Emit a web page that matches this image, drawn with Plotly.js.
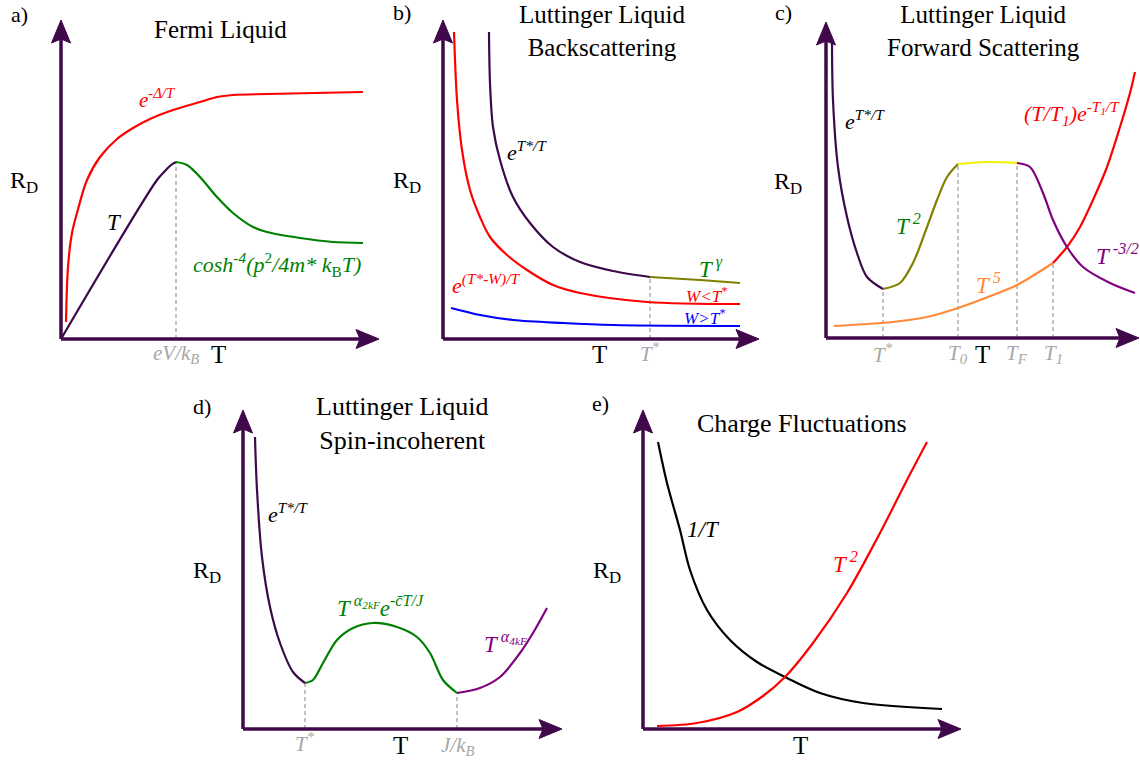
<!DOCTYPE html>
<html><head><meta charset="utf-8">
<script src="https://cdn.plot.ly/plotly-3.0.1.min.js"></script>
<style>html,body{margin:0;padding:0;background:#fff}#chart{width:1140px;height:761px}</style>
</head><body><div id="chart"></div>
<script>
// ---------------- data (arbitrary T / R_D units) ----------------
// a) Fermi Liquid
const aRedX  = [5,7,11,16,26,39,56,72,89,112,139,156,172,206,302];
const aRedY  = [17,72,106,126,159,182,200,211,220,229,237,242,244,245,247];
const aLinX  = [0,96,104,110,115];
const aLinY  = [0,159,168,174,177];
const aCoshX = [115,126,139,156,172,192,206,239,272,302];
const aCoshY = [177,174,162,142,126,112,107,101,97,96];
const aGuideX = [115], aGuideTop = [177];
const aTickText = ['eV/k<sub>B</sub>'];

// b) Luttinger Liquid – Backscattering
const bRedX  = [11,14,19,27,37,47,64,84,110,137,204,297];
const bRedY  = [307,239,189,149,122,102,84,69,54,46,37,35];
const bExpX  = [46,47,50,57,70,87,110,137,170,207];
const bExpY  = [307,256,212,179,142,116,92,77,68,62];
const bPowX  = [207,257,297];
const bPowY  = [62,59,56];
const bBlueX = [8,37,70,120,170,297];
const bBlueY = [31,24,19,16,14,13];
const bGuideX = [207], bGuideTop = [62];
const bTickText = ['T<sup>*</sup>'];

// c) Luttinger Liquid – Forward Scattering
const cExpX  = [6,7,12,21,31,41,57];
const cExpY  = [295,238,171,121,85,61,49];
const cT2X   = [57,74,87,101,111,121,132];
const cT2Y   = [49,55,75,111,138,161,174];
const cFlatX = [132,161,191];
const cFlatY = [174,176,175];
const cDecX  = [191,204,217,227,241,257,284,309];
const cDecY  = [175,171,145,118,91,71,55,45];
const cT5X   = [8,67,101,132,167,191,227];
const cT5Y   = [12,16,21,30,43,53,75];
const cActX  = [227,241,254,267,281,294,304,309];
const cActY  = [75,91,111,138,171,211,245,266];
const cGuideX = [57,132,191,227], cGuideTop = [49,174,175,75];
const cTickText = ['T<sup>*</sup>','T<sub>0</sub>','T<sub>F</sub>','T<sub>1</sub>'];

// d) Luttinger Liquid – Spin-incoherent
const dExpX  = [12,14,19,27,37,50,62];
const dExpY  = [292,239,172,122,86,57,46];
const dMidX  = [62,70,80,94,110,130,154,174,187,200,214];
const dMidY  = [46,49,66,89,101,106,102,92,76,49,36];
const dPowX  = [214,237,257,277,290,304];
const dPowY  = [36,41,52,76,96,121];
const dGuideX = [62,214], dGuideTop = [46,36];
const dTickText = ['T<sup>*</sup>','J/k<sub>B</sub>'];

// e) Charge Fluctuations
const eInvX = [15,24,37,47,64,87,114,144,177,220,299];
const eInvY = [287,246,199,159,119,89,67,51,36,26,20];
const eSqX  = [14,54,94,120,142,170,204,237,264,284];
const eSqY  = [3,6,17,33,52,86,136,196,249,287];

// ---------------- layout helpers ----------------
const W = 1140, H = 761, PAD = 12;
const AX = '#40084a', DARK = '#3c0a4a', GREY = '#a6a6a6', GUIDE = '#9a9a9a';
const FONT = 'Liberation Serif';
const panels = [
  {id:'a', ox:61,  oy:339, tx:379,  ty:20},
  {id:'b', ox:443, oy:339, tx:759,  ty:20},
  {id:'c', ox:826, oy:338, tx:1139, ty:22},
  {id:'d', ox:243, oy:729, tx:562,  ty:410},
  {id:'e', ox:643, oy:729, tx:961,  ty:410}
];
const px = x => x / W, py = y => 1 - y / H;

const layout = {
  width: W, height: H, margin: {l:0, r:0, t:0, b:0},
  paper_bgcolor: '#fff', plot_bgcolor: 'rgba(0,0,0,0)',
  showlegend: false, shapes: [], annotations: [],
  font: {family: FONT, color: '#000'}
};
const traces = [];

panels.forEach((p, i) => {
  const n = i + 1, xs = n === 1 ? '' : n, xr = 'x' + (n === 1 ? '' : n), yr = 'y' + (n === 1 ? '' : n);
  p.xr = xr; p.yr = yr;
  const xm = p.tx - p.ox, ym = p.oy - p.ty;
  const common = {showgrid:false, zeroline:false, showline:false, showticklabels:false, ticks:'', fixedrange:true};
  layout['xaxis' + xs] = Object.assign({}, common, {domain:[px(p.ox - PAD), px(p.tx)], range:[-PAD, xm], anchor: yr});
  layout['yaxis' + xs] = Object.assign({}, common, {domain:[py(p.oy + PAD), py(p.ty)], range:[-PAD, ym], anchor: xr});
  // axis arrows
  const L = 23, HW = 9.5, N = 4;
  layout.shapes.push({type:'line', xref:xr, yref:yr, x0:0, y0:0, x1:xm - L + N, y1:0, line:{color:AX, width:3.5}, layer:'above'});
  layout.shapes.push({type:'line', xref:xr, yref:yr, x0:0, y0:0, x1:0, y1:ym - L + N, line:{color:AX, width:3.5}, layer:'above'});
  layout.shapes.push({type:'path', xref:xr, yref:yr, layer:'above', fillcolor:AX, line:{color:AX, width:1},
    path:`M${xm},0 L${xm - L},${HW} L${xm - L + N},0 L${xm - L},${-HW} Z`});
  layout.shapes.push({type:'path', xref:xr, yref:yr, layer:'above', fillcolor:AX, line:{color:AX, width:1},
    path:`M0,${ym} L${HW},${ym - L} L0,${ym - L + N} L${-HW},${ym - L} Z`});
});

function curve(pi, x, y, color, width) {
  const p = panels[pi];
  traces.push({type:'scatter', mode:'lines', x:x, y:y, xaxis:p.xr, yaxis:p.yr,
    line:{color:color, width:width || 2.2, shape:'spline', smoothing:0.9}, hoverinfo:'skip'});
}
function guides(pi, gx, gtop) {
  const p = panels[pi];
  gx.forEach((g, k) => traces.push({type:'scatter', mode:'lines', x:[g, g], y:[0, gtop[k]], xaxis:p.xr, yaxis:p.yr,
    line:{color:GUIDE, width:1.2, dash:'4px,3px'}, hoverinfo:'skip'}));
}
function ann(text, x, y, size, color) {
  layout.annotations.push({text:text, x:px(x), y:py(y), xref:'paper', yref:'paper',
    showarrow:false, xanchor:'center', yanchor:'middle', font:{family:FONT, size:size, color:color || '#000'}});
}
function tick(pi, xv, text, ypix, color, size) {
  const p = panels[pi];
  layout.annotations.push({text:text, x:xv, y:py(ypix), xref:p.xr, yref:'paper', showarrow:false,
    xanchor:'center', yanchor:'middle', font:{family:FONT, size:size || 21, color:color || GREY}});
}

// guides first (drawn under curves)
guides(0, aGuideX, aGuideTop);
guides(1, bGuideX, bGuideTop);
guides(2, cGuideX, cGuideTop);
guides(3, dGuideX, dGuideTop);

// a
curve(0, aRedX, aRedY, '#ff0000');
curve(0, aLinX, aLinY, DARK);
curve(0, aCoshX, aCoshY, '#008000');
// b
curve(1, bBlueX, bBlueY, '#0000ff');
curve(1, bRedX, bRedY, '#ff0000');
curve(1, bExpX, bExpY, DARK);
curve(1, bPowX, bPowY, '#808000');
// c
curve(2, cT5X, cT5Y, '#ff8a3a');
curve(2, cActX, cActY, '#ff0000');
curve(2, cExpX, cExpY, DARK);
curve(2, cT2X, cT2Y, '#808000');
curve(2, cFlatX, cFlatY, '#f2f200');
curve(2, cDecX, cDecY, '#800080');
// d
curve(3, dExpX, dExpY, DARK);
curve(3, dMidX, dMidY, '#008000');
curve(3, dPowX, dPowY, '#800080');
// e
curve(4, eInvX, eInvY, '#000000');
curve(4, eSqX, eSqY, '#ff0000');

// panel letters
ann('a)', 19, 15, 22); ann('b)', 402, 13, 22); ann('c)', 783, 13, 22);
ann('d)', 202, 406, 22); ann('e)', 600, 403, 22);
// titles
ann('Fermi Liquid', 220, 29, 25);
ann('Luttinger Liquid<br>Backscattering', 602, 31, 25);
ann('Luttinger Liquid<br>Forward Scattering', 983, 31, 25);
ann('Luttinger Liquid<br>Spin-incoherent', 402, 424, 26);
ann('Charge Fluctuations', 802, 423, 26);
// y labels
[[24,182],[407,182],[788,183],[207,572],[607,572]].forEach(q => ann('R<sub>D</sub>', q[0], q[1], 24));
// x labels
[[218,355],[599,355],[982,355],[400,745],[800,745]].forEach(q => ann('T', q[0], q[1], 25));

// tick labels
tick(0, aGuideX[0], '<i>' + aTickText[0] + '</i>', 354);
tick(1, bGuideX[0], '<i>' + bTickText[0] + '</i>', 352);
cGuideX.forEach((g, k) => tick(2, g, '<i>' + cTickText[k] + '</i>', 354));
tick(3, dGuideX[0], '<i>' + dTickText[0] + '</i>', 742);
tick(3, dGuideX[1], '<i>' + dTickText[1] + '</i>', 746);

// curve labels
ann('<i>e<sup>-Δ/T</sup></i>', 157, 98, 21, '#ff0000');
ann('<i>T</i>', 114, 222, 23, '#000');
ann('<i>cosh<sup>-4</sup>(p</i><sup>2</sup><i>/4m* k</i><sub>B</sub><i>T)</i>', 277, 264, 22, '#008000');

ann('<i>e<sup>T*/T</sup></i>', 527, 151, 22, '#000');
ann('<i>T<sup> γ</sup></i>', 711, 267, 23, '#008000');
ann('<i>e<sup>(T*-W)/T</sup></i>', 486, 284, 22, '#ff0000');
ann('<i>W&lt;T<sup>*</sup></i>', 706, 295, 17, '#ff0000');
ann('<i>W&gt;T<sup>*</sup></i>', 704, 317, 17, '#0000ff');

ann('<i>e<sup>T*/T</sup></i>', 865, 120, 22, '#000');
ann('<i>T<sup> 2</sup></i>', 908, 224, 23, '#008000');
ann('<i>(T/T<sub>1</sub>)e<sup>-T<sub>1</sub>/T</sup></i>', 1072, 113, 22, '#ff0000');
ann('<i>T<sup> -3/2</sup></i>', 1117, 255, 23, '#800080');
ann('<i>T<sup> 5</sup></i>', 988, 283, 23, '#ff8a3a');

ann('<i>e<sup>T*/T</sup></i>', 288, 513, 22, '#000');
ann('<i>T<sup> α<sub>2kF</sub></sup>e<sup>-c̄T/J</sup></i>', 380, 606, 23, '#008000');
ann('<i>T<sup> α<sub>4kF</sub></sup></i>', 505, 642, 23, '#800080');

ann('<i>1/T</i>', 703, 529, 23, '#000');
ann('<i>T<sup> 2</sup></i>', 845, 562, 23, '#ff0000');

Plotly.newPlot('chart', traces, layout, {staticPlot:true, displayModeBar:false});
</script>
</body></html>
